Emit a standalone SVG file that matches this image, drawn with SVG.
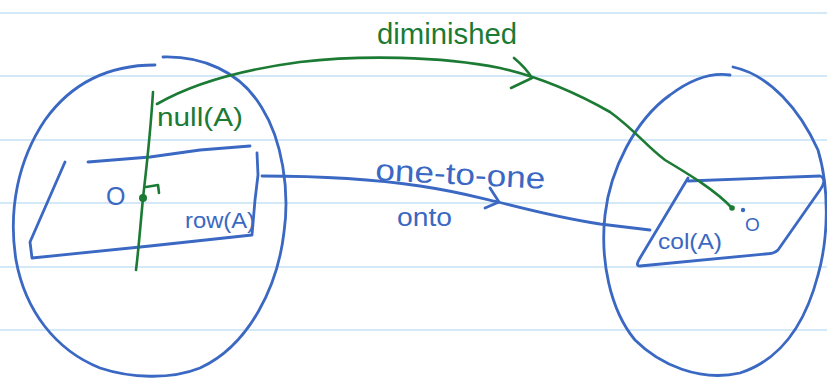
<svg xmlns="http://www.w3.org/2000/svg" width="827" height="383" viewBox="0 0 827 383">
  <style>
    .rule { stroke: #d3e9f8; stroke-width: 2; }
    .ink-blue { fill: none; stroke: #3a68c2; stroke-width: 2.8; stroke-linecap: round; stroke-linejoin: round; }
    .ink-green { fill: none; stroke: #1b7a33; stroke-width: 2.6; stroke-linecap: round; stroke-linejoin: round; }
    .txt-blue { fill: #3a68c2; font-family: "Liberation Sans", "DejaVu Sans", sans-serif; }
    .txt-green { fill: #1b7a33; font-family: "Liberation Sans", "DejaVu Sans", sans-serif; }
  </style>

  <rect width="827" height="383" fill="#ffffff"/>

  <!-- notebook ruling -->
  <g id="ruling">
    <line class="rule" x1="0" y1="13" x2="827" y2="13"/>
    <line class="rule" x1="0" y1="76" x2="827" y2="76"/>
    <line class="rule" x1="0" y1="140" x2="827" y2="140"/>
    <line class="rule" x1="0" y1="203" x2="827" y2="203"/>
    <line class="rule" x1="0" y1="267" x2="827" y2="267"/>
    <line class="rule" x1="0" y1="330" x2="827" y2="330"/>
  </g>

  <!-- domain space with row space and null space -->
  <g id="domain">
    <path class="ink-blue" d="M163,57 C200,56 240,70 262,108 C282,140 290,190 284,232 C278,285 250,345 200,368 C170,380 130,378 100,368 C55,350 25,310 16,260 C8,210 18,160 45,120 C70,85 105,65 155,65"/>
    <!-- row(A) plane -->
    <path class="ink-blue" d="M88,162 L150,157 L200,150 L250,146"/>
    <path class="ink-blue" d="M257,153 L258,175 L255,200 L252,235 L150,246 L32,258 L30,242 L65,162"/>
    <text class="txt-blue" x="106" y="205" font-size="25">O</text>
    <text class="txt-blue" x="185" y="228" font-size="22" textLength="70" lengthAdjust="spacingAndGlyphs">row(A)</text>
    <!-- null(A) line, perpendicular -->
    <path class="ink-green" d="M153,92 C150,140 145,180 143,198 C140,230 138,255 136,270"/>
    <path class="ink-green" d="M146,187 L158,185 L159,193"/>
    <circle cx="143" cy="198" r="4" fill="#1b7a33"/>
    <text class="txt-green" x="157" y="126" font-size="26" textLength="86" lengthAdjust="spacingAndGlyphs">null(A)</text>
  </g>

  <!-- codomain space with column space -->
  <g id="codomain">
    <path class="ink-blue" d="M733,67 C770,75 800,110 818,150 C830,190 828,240 818,275 C805,325 780,360 740,373 C700,382 660,365 635,340 C610,310 600,260 605,215 C610,170 635,120 670,95 C690,80 710,72 730,75"/>
    <path class="ink-blue" d="M688,181 L820,176 C826,178 824,185 820,190 L778,250 C775,253 770,254 765,254 L640,266 C636,266 637,263 640,258 L688,178"/>
    <text class="txt-blue" x="658" y="249" font-size="22" textLength="64" lengthAdjust="spacingAndGlyphs">col(A)</text>
    <circle cx="743" cy="210" r="2.2" fill="#3a68c2"/>
    <text class="txt-blue" x="745" y="231" font-size="19">O</text>
  </g>

  <!-- mappings -->
  <g id="connectors">
    <path class="ink-blue" d="M262,176 C320,176 380,180 420,186 C460,192 480,198 498,202 C530,210 560,218 600,224 L650,230"/>
    <path class="ink-blue" d="M490,188 L499,202 L485,208"/>
    <text class="txt-blue" x="375" y="180" font-size="30" textLength="170" lengthAdjust="spacingAndGlyphs" transform="rotate(3 375 180)">one-to-one</text>
    <text class="txt-blue" x="397" y="226" font-size="26" textLength="55" lengthAdjust="spacingAndGlyphs">onto</text>

    <path class="ink-green" d="M157,104 C190,85 240,70 300,62 C360,55 440,56 500,68 C540,77 580,95 610,112 C635,130 645,145 665,160 C690,175 715,190 732,208"/>
    <path class="ink-green" d="M514,58 Q526,68 532,78 L511,88"/>
    <circle cx="732" cy="208" r="2.8" fill="#1b7a33"/>
    <text class="txt-green" x="377" y="44" font-size="30" textLength="140" lengthAdjust="spacingAndGlyphs">diminished</text>
  </g>
</svg>
